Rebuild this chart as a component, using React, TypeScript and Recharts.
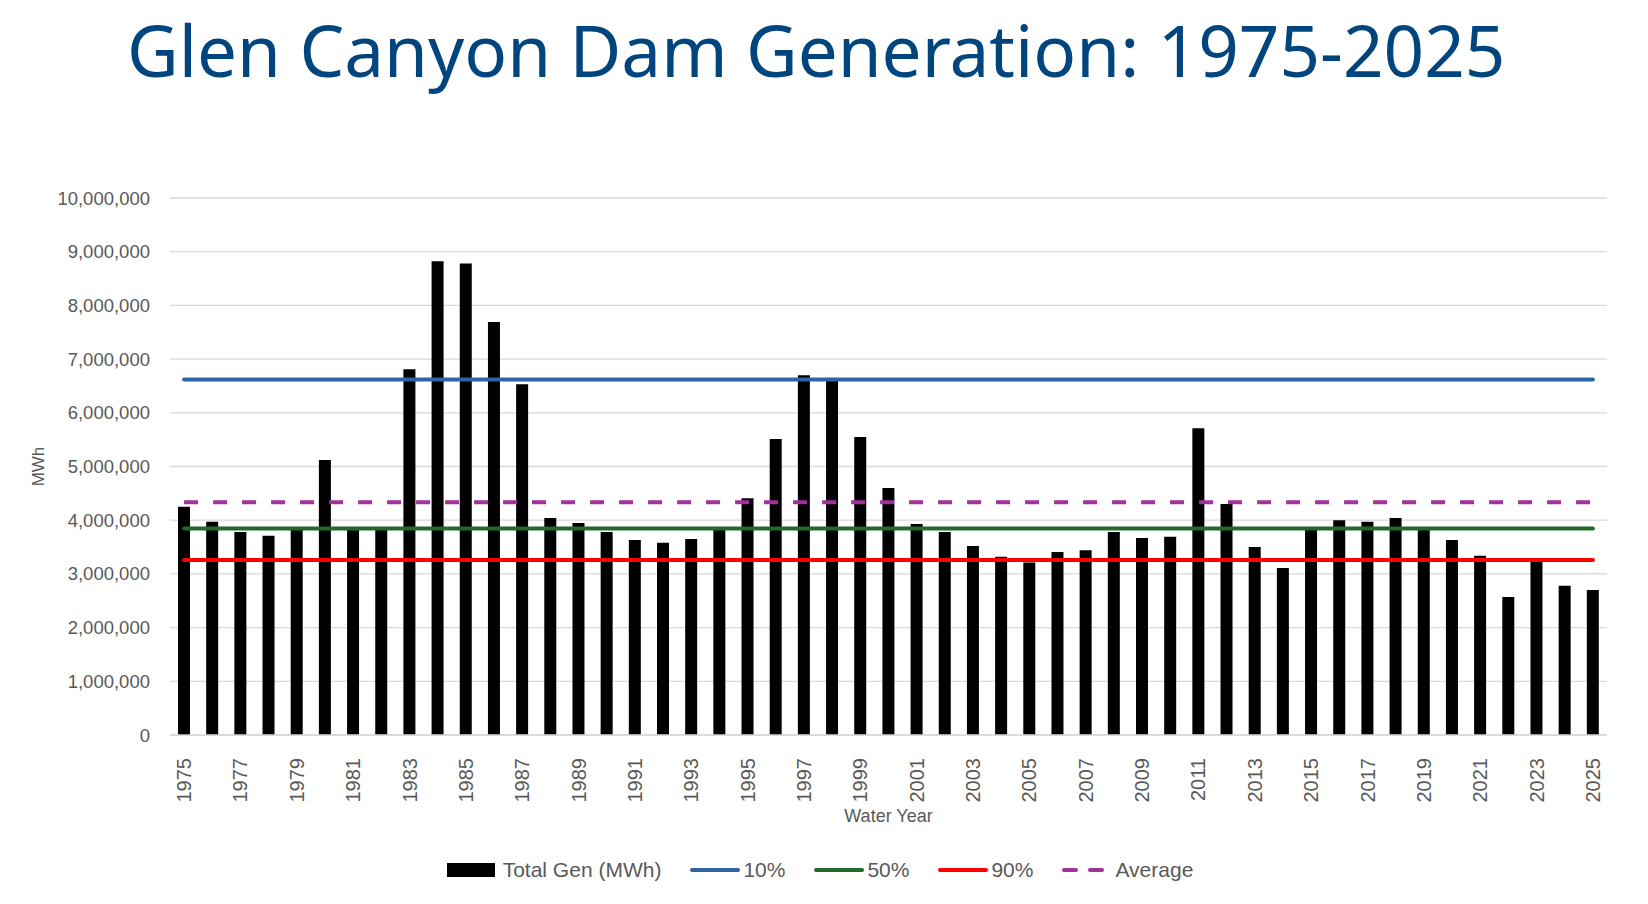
import React from 'react'
import {
  ComposedChart, Bar, Line, XAxis, YAxis, CartesianGrid,
} from 'recharts'

// water years on the x axis
const years = [
  1975, 1976, 1977, 1978, 1979, 1980, 1981, 1982, 1983, 1984,
  1985, 1986, 1987, 1988, 1989, 1990, 1991, 1992, 1993, 1994,
  1995, 1996, 1997, 1998, 1999, 2000, 2001, 2002, 2003, 2004,
  2005, 2006, 2007, 2008, 2009, 2010, 2011, 2012, 2013, 2014,
  2015, 2016, 2017, 2018, 2019, 2020, 2021, 2022, 2023, 2024,
  2025,
]

// total generation, MWh
const totalGen = [
  4250000, 3970000, 3780000, 3710000, 3820000, 5120000, 3830000, 3820000, 6810000, 8820000,
  8780000, 7690000, 6530000, 4040000, 3950000, 3780000, 3630000, 3580000, 3650000, 3850000,
  4410000, 5510000, 6700000, 6600000, 5550000, 4600000, 3930000, 3780000, 3520000, 3320000,
  3210000, 3410000, 3440000, 3780000, 3670000, 3690000, 5710000, 4300000, 3500000, 3110000,
  3820000, 4000000, 3970000, 4040000, 3830000, 3630000, 3340000, 2570000, 3260000, 2780000,
  2700000,
]

// exceedance levels and mean
const p10 = 6620000
const p50 = 3845000
const p90 = 3260000
const average = 4335000

const yTicks = [0, 1000000, 2000000, 3000000, 4000000, 5000000, 6000000, 7000000, 8000000, 9000000, 10000000]

const data = years.map((y, i) => ({
  year: String(y),
  total: totalGen[i],
  p10,
  p50,
  p90,
  average,
}))

const TICK_FONT = '"Liberation Sans", Arial, sans-serif'
const NARROW_FONT = '"Liberation Sans Narrow", "Liberation Sans", Arial, sans-serif'

const lines = [
  { key: 'p10', name: '10%', color: '#2E64A0', dash: undefined },
  { key: 'p50', name: '50%', color: '#1E6B2B', dash: undefined },
  { key: 'p90', name: '90%', color: '#FF0000', dash: undefined },
  { key: 'average', name: 'Average', color: '#A2319C', dash: '14 15' },
]

const YearTick = (props: any) => {
  const { x, y, payload } = props
  return (
    <text
      transform={`translate(${x},${y + 15}) rotate(-90)`}
      textAnchor="end"
      dominantBaseline="central"
      fontSize={20}
      fontFamily={TICK_FONT}
      fill="#595959"
    >
      {payload.value}
    </text>
  )
}

function LegendRow() {
  return (
    <div
      style={{
        position: 'absolute',
        top: 858,
        left: 0,
        width: 1640,
        display: 'flex',
        justifyContent: 'center',
        alignItems: 'center',
        fontFamily: NARROW_FONT,
        fontSize: 21,
        color: '#595959',
      }}
    >
      <svg width={50} height={16} style={{ marginRight: 6 }}>
        <rect x={0} y={1} width={48} height={14} fill="#000" />
      </svg>
      <span style={{ marginRight: 28 }}>Total Gen (MWh)</span>
      {lines.map((l, i) => (
        <React.Fragment key={l.key}>
          <svg width={52} height={10} style={{ marginRight: 2 }}>
            <line
              x1={3} x2={49} y1={5} y2={5}
              stroke={l.color}
              strokeWidth={4}
              strokeLinecap="round"
              strokeDasharray={l.dash ? '12 14' : undefined}
            />
          </svg>
          <span style={{ marginRight: i < lines.length - 1 ? 28 : 0 }}>{l.name}</span>
        </React.Fragment>
      ))}
    </div>
  )
}

export default function App() {
  return (
    <div style={{ position: 'absolute', left: 0, top: 0, width: 1648, height: 904, background: '#fff' }}>
      <svg width={1648} height={120} style={{ position: 'absolute', left: 0, top: 0 }}>
        <text
          x={127}
          y={77}
          fontFamily='"Noto Sans", "Open Sans", sans-serif'
          fontSize={71}
          fill="#01457F"
        >
          Glen Canyon Dam Generation: 1975-2025
        </text>
      </svg>
      <div style={{ position: 'absolute', left: 0, top: 0 }}>
        <ComposedChart
          width={1648}
          height={904}
          data={data}
          margin={{ top: 198, right: 41, left: 20, bottom: 109 }}
        >
          <CartesianGrid vertical={false} stroke="#d9d9d9" strokeWidth={1.3} />
          <XAxis
            dataKey="year"
            interval={1}
            height={60}
            axisLine={{ stroke: '#d9d9d9', strokeWidth: 1.3 }}
            tickLine={false}
            tick={<YearTick />}
            label={{
              value: 'Water Year',
              position: 'bottom',
              offset: 14,
              style: { fontFamily: NARROW_FONT, fontSize: 18, fill: '#595959' },
            }}
          />
          <YAxis
            width={150}
            domain={[0, 10000000]}
            ticks={yTicks}
            axisLine={false}
            tickLine={false}
            tickSize={0}
            tickMargin={20}
            tickFormatter={(v: number) => v.toLocaleString('en-US')}
            tick={{ fontSize: 18.5, fill: '#595959', fontFamily: TICK_FONT }}
            label={{
              value: 'MWh',
              angle: -90,
              position: 'insideLeft',
              offset: 18,
              style: { textAnchor: 'middle', fontFamily: NARROW_FONT, fontSize: 17, fill: '#595959' },
            }}
          />
          <Bar dataKey="total" name="Total Gen (MWh)" fill="#000" barSize={12} isAnimationActive={false} />
          {lines.map((l) => (
            <Line
              key={l.key}
              dataKey={l.key}
              name={l.name}
              stroke={l.color}
              strokeWidth={4}
              strokeDasharray={l.dash}
              strokeLinecap={l.dash ? 'butt' : 'round'}
              dot={false}
              activeDot={false}
              isAnimationActive={false}
            />
          ))}
        </ComposedChart>
      </div>
      <LegendRow />
    </div>
  )
}
